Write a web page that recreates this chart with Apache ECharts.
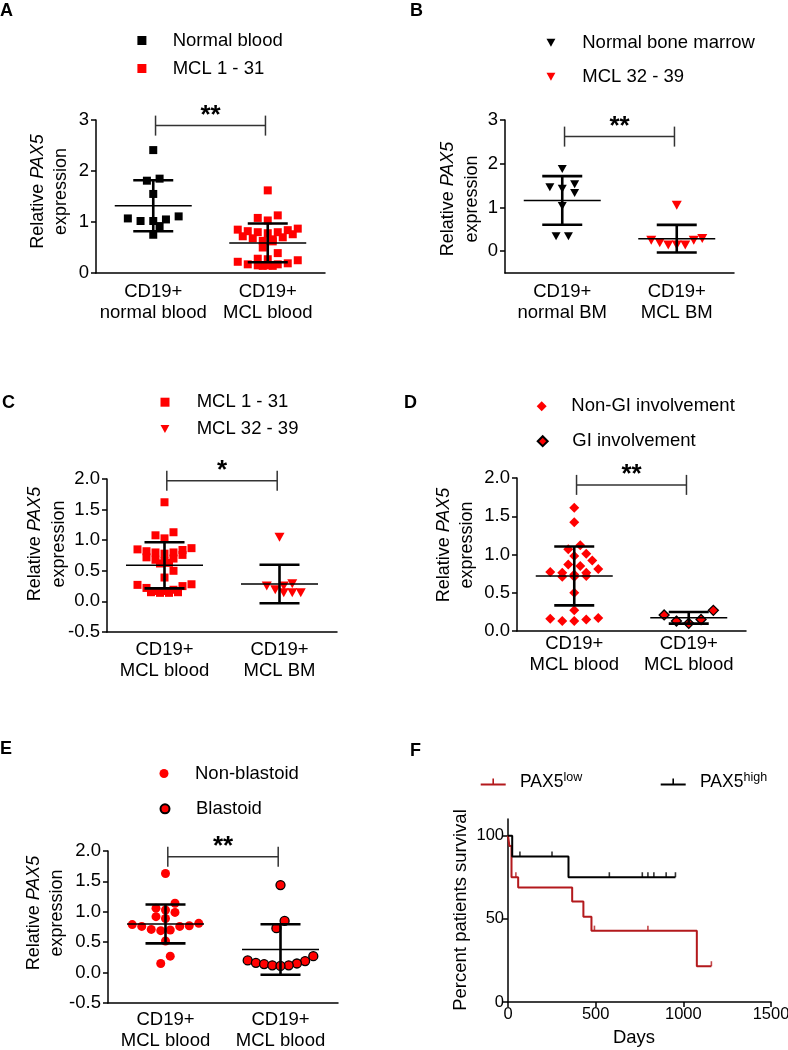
<!DOCTYPE html>
<html><head><meta charset="utf-8">
<script src="https://cdn.jsdelivr.net/npm/echarts@6/dist/echarts.min.js"></script>
<style>html,body{margin:0;padding:0;background:#fff}#c{width:788px;height:1050px}</style>
</head><body><div id="c"></div>
<script>
// ---------------- DATA ----------------
const catA = ['CD19+\nnormal blood', 'CD19+\nMCL blood'];
const catB = ['CD19+\nnormal BM', 'CD19+\nMCL BM'];
const catC = ['CD19+\nMCL blood', 'CD19+\nMCL BM'];
const catD = ['CD19+\nMCL blood', 'CD19+\nMCL blood'];
const catE = ['CD19+\nMCL blood', 'CD19+\nMCL blood'];

const ticksA = [0, 1, 2, 3];
const ticksB = [0, 1, 2, 3];
const ticksC = [-0.5, 0, 0.5, 1, 1.5, 2];
const ticksD = [0, 0.5, 1, 1.5, 2];
const ticksE = [-0.5, 0, 0.5, 1, 1.5, 2];
const ticksFy = [0, 50, 100];
const ticksFx = [0, 500, 1000, 1500];

const normalBlood = [2.41, 1.85, 1.81, 1.55, 1.11, 1.07, 1.05, 1.02, 1.02, 0.92, 0.75];
const mcl1to31 = [1.62, 1.13, 1.08, 1.03, 0.87, 0.85, 0.84, 0.82, 0.80, 0.80, 0.78, 0.76, 0.72, 0.70, 0.68, 0.66,
                  0.63, 0.62, 0.50, 0.39, 0.28, 0.27, 0.25, 0.22, 0.19, 0.17, 0.17, 0.15, 0.15, 0.14, 0.14];
const normalBM = [1.88, 1.53, 1.46, 1.43, 1.33, 1.03, 0.34, 0.34];
const mcl32to39 = [1.05, 0.29, 0.25, 0.25, 0.19, 0.14, 0.14, 0.14];
const nonGI = [1.61, 1.42, 1.12, 1.07, 1.01, 0.98, 0.92, 0.87, 0.85, 0.81, 0.77, 0.76, 0.76, 0.74, 0.72, 0.71,
               0.71, 0.50, 0.27, 0.17, 0.16, 0.15, 0.13, 0.13];
const giInv = [0.27, 0.21, 0.15, 0.13, 0.10];
const nonBlastoid = [1.63, 1.14, 1.06, 1.03, 0.99, 0.92, 0.89, 0.81, 0.79, 0.77, 0.76, 0.76, 0.71, 0.70, 0.69,
                     0.52, 0.27, 0.15];
const blastoid = [1.44, 0.85, 0.73, 0.27, 0.20, 0.19, 0.16, 0.15, 0.14, 0.12, 0.12, 0.11];

// mean and SD as drawn, per group
const meanA = [1.32, 0.59], sdA = [0.50, 0.38];
const meanB = [1.16, 0.285], sdB = [0.555, 0.315];
const meanC = [0.59, 0.285], sdC = [0.377, 0.315];
const meanD = [0.72, 0.172], sdD = [0.385, 0.076];
const meanE = [0.80, 0.38], sdE = [0.32, 0.415];

// significance
const starsA = '**', starsB = '**', starsC = '*', starsD = '**', starsE = '**';
const bracketA = 2.89, bracketB = 2.62, bracketC = 1.97, bracketD = 1.91, bracketE = 1.905;

// Kaplan-Meier (days, % survival)
const lowDays = [0, 8, 20, 58, 366, 430, 476, 1077, 1160];
const lowSurv = [100, 93.8, 75, 68.8, 60.4, 51.3, 42.9, 21.5, 21.5];
const highDays = [0, 24, 345, 955];
const highSurv = [100, 87.5, 75, 75];
const lowCensDays = [45, 493, 798, 1160];
const lowCensSurv = [75, 42.9, 42.9, 21.5];
const highCensDays = [68, 251, 578, 766, 798, 832, 902, 955];
const highCensSurv = [87.5, 87.5, 75, 75, 75, 75, 75, 75];

// ---------------- STYLE / LAYOUT ----------------
const FONT = '"Liberation Sans", Arial, Helvetica, sans-serif';
const NARROW = '"Liberation Sans Narrow", "Liberation Sans", Arial, sans-serif';
const RED = '#ff0000';
const KRED = '#b3191c';
const TRI = 'path://M0,0L10,0L5,9Z';
const centers = [0.5, 1.5];

const panels = [
  {key:'A', cats:catA, ticks:ticksA, dec:0, g:{left:96, top:120, width:229, height:153}, min:0, max:3, catMargin:8,
   mean:meanA, sd:sdA, stars:starsA, bracket:bracketA,
   groups:[{name:'Normal blood', vals:normalBlood, symbol:'rect', size:8, color:'#000', d:12.7, maxRow:7, tol:7, m:8},
           {name:'MCL 1 - 31', vals:mcl1to31, symbol:'rect', size:8, color:RED, d:10, maxRow:7, tol:7, m:8}]},
  {key:'B', cats:catB, ticks:ticksB, dec:0, g:{left:505, top:120, width:229, height:153}, min:-0.5, max:3, catMargin:8,
   mean:meanB, sd:sdB, stars:starsB, bracket:bracketB,
   groups:[{name:'Normal bone marrow', vals:normalBM, symbol:TRI, size:[9,8], color:'#000', d:12.4, maxRow:7, tol:7, m:8},
           {name:'MCL 32 - 39', vals:mcl32to39, symbol:TRI, size:[10,9], color:RED, d:8.5, maxRow:8, tol:8, m:6}]},
  {key:'C', cats:catC, ticks:ticksC, dec:1, g:{left:107, top:479, width:230, height:153}, min:-0.5, max:2, catMargin:7,
   mean:meanC, sd:sdC, stars:starsC, bracket:bracketC,
   groups:[{name:'MCL 1 - 31', vals:mcl1to31, symbol:'rect', size:8, color:RED, d:9, maxRow:7, tol:7, m:8},
           {name:'MCL 32 - 39', vals:mcl32to39, symbol:TRI, size:[10,9], color:RED, d:8.5, maxRow:8, tol:8, m:6}]},
  {key:'D', cats:catD, ticks:ticksD, dec:1, g:{left:517, top:478, width:229, height:153}, min:0, max:2, catMargin:2,
   mean:meanD, sd:sdD, stars:starsD, bracket:bracketD,
   groups:[{name:'Non-GI involvement', vals:nonGI, symbol:'diamond', size:10, color:RED, d:12, maxRow:6, tol:6, m:9},
           {name:'GI involvement', vals:giInv, symbol:'diamond', size:10, color:RED, border:'#000', d:12.3, maxRow:6, tol:14, m:9}]},
  {key:'E', cats:catE, ticks:ticksE, dec:1, g:{left:108, top:851, width:230, height:152}, min:-0.5, max:2, catMargin:6,
   mean:meanE, sd:sdE, stars:starsE, bracket:bracketE,
   groups:[{name:'Non-blastoid', vals:nonBlastoid, symbol:'circle', size:9, color:RED, d:9.5, maxRow:8, tol:8, m:8.5},
           {name:'Blastoid', vals:blastoid, symbol:'circle', size:9, color:RED, border:'#000', d:8.2, maxRow:9, tol:10.5, m:8}]}
];

// column-scatter layout (rows of near-equal values spread sideways)
function swarm(vals, ppuY, ppuX, o) {
  const idx = vals.map((v, i) => i).sort((a, b) => vals[b] - vals[a]);
  const rows = []; let cur = null;
  for (const i of idx) {
    if (cur && (vals[cur[0]] - vals[i]) * ppuY <= o.tol && cur.length < o.maxRow) cur.push(i);
    else { cur = [i]; rows.push(cur); }
  }
  const off = new Array(vals.length).fill(0);
  const placed = [];
  const shifts = [0, 0.5, -0.5, 1, -1, 1.5, -1.5, 2, -2];
  for (const row of rows) {
    const n = row.length;
    const slots = [];
    for (let k = 0; k < n; k++) slots.push(k - (n - 1) / 2);
    slots.sort((a, b) => Math.abs(a) - Math.abs(b) || a - b);
    const asc = [...row].sort((a, b) => vals[a] - vals[b]);
    let chosen = 0;
    for (const s of shifts) {
      let ok = true;
      for (let k = 0; k < n && ok; k++) {
        const x = (slots[k] + s) * o.d, y = vals[asc[k]] * ppuY;
        for (const p of placed) { if (Math.hypot(p[0] - x, p[1] - y) < o.m) { ok = false; break; } }
      }
      if (ok) { chosen = s; break; }
    }
    for (let k = 0; k < n; k++) {
      const x = (slots[k] + chosen) * o.d;
      off[asc[k]] = x / ppuX;
      placed.push([x, vals[asc[k]] * ppuY]);
    }
  }
  return off;
}

const axisLineStyle = {color: '#000', width: 1.5};
const grid = [], xAxis = [], yAxis = [], series = [];

panels.forEach((p, i) => {
  grid.push(Object.assign({outerBoundsMode: 'none', containLabel: false}, p.g));
  xAxis.push({gridIndex: i, type: 'category', data: p.cats, position: 'bottom',
    axisLine: {show: true, onZero: false, lineStyle: axisLineStyle}, axisTick: {show: false},
    axisLabel: {interval: 0, fontSize: 18.5, lineHeight: 21, margin: p.catMargin, color: '#000', fontFamily: FONT},
    splitLine: {show: false}});
  xAxis.push({gridIndex: i, type: 'value', min: 0, max: 2, show: false});
  yAxis.push({gridIndex: i, type: 'value', min: p.min, max: p.max,
    axisLine: {show: true, onZero: false, lineStyle: axisLineStyle},
    axisTick: {show: true, length: 5, lineStyle: axisLineStyle, customValues: p.ticks},
    axisLabel: {customValues: p.ticks, formatter: v => Number(v).toFixed(p.dec), fontSize: 18.5, margin: 7,
      color: '#000', fontFamily: FONT},
    splitLine: {show: false}});
  const ppuY = p.g.height / (p.max - p.min), ppuX = p.g.width / 2;
  p.groups.forEach((gr, gi) => {
    const off = swarm(gr.vals, ppuY, ppuX, gr);
    series.push({type: 'scatter', name: gr.name, xAxisIndex: 2 * i + 1, yAxisIndex: i,
      symbol: gr.symbol, symbolSize: gr.size, z: 2,
      itemStyle: {color: gr.color, borderColor: gr.border || gr.color, borderWidth: gr.border ? 1.3 : 0, opacity: 1},
      emphasis: {disabled: true},
      data: gr.vals.map((v, k) => [centers[gi] + off[k], v])});
  });
  // mean +/- SD
  series.push({type: 'custom', xAxisIndex: 2 * i + 1, yAxisIndex: i, z: 5, silent: true,
    data: centers.map((c, k) => [c, p.mean[k], p.sd[k]]),
    renderItem: (params, api) => {
      const c = api.value(0), m = api.value(1), s = api.value(2);
      const pm = api.coord([c, m]), pt = api.coord([c, m + s]), pb = api.coord([c, m - s]);
      const thin = {stroke: '#000', lineWidth: 1.5}, thick = {stroke: '#000', lineWidth: 2.6};
      return {type: 'group', children: [
        {type: 'line', shape: {x1: pm[0] - 38.5, y1: pm[1], x2: pm[0] + 38.5, y2: pm[1]}, style: thin},
        {type: 'line', shape: {x1: pt[0], y1: pt[1], x2: pb[0], y2: pb[1]}, style: thick},
        {type: 'line', shape: {x1: pt[0] - 20, y1: pt[1], x2: pt[0] + 20, y2: pt[1]}, style: thick},
        {type: 'line', shape: {x1: pb[0] - 20, y1: pb[1], x2: pb[0] + 20, y2: pb[1]}, style: thick}
      ]};
    }});
  // significance bracket
  series.push({type: 'custom', xAxisIndex: 2 * i + 1, yAxisIndex: i, z: 5, silent: true,
    data: [[0.52, 1.48, p.bracket]],
    renderItem: (params, api) => {
      const a = api.coord([api.value(0), api.value(2)]), b = api.coord([api.value(1), api.value(2)]);
      const ls = {stroke: '#333', lineWidth: 1.5};
      return {type: 'group', children: [
        {type: 'line', shape: {x1: a[0], y1: a[1], x2: b[0], y2: b[1]}, style: ls},
        {type: 'line', shape: {x1: a[0], y1: a[1] - 10, x2: a[0], y2: a[1] + 10}, style: ls},
        {type: 'line', shape: {x1: b[0], y1: b[1] - 10, x2: b[0], y2: b[1] + 10}, style: ls},
        {type: 'text', x: (a[0] + b[0]) / 2, y: a[1] - 10,
         style: {text: p.stars, fill: '#000', font: 'bold 26px ' + FONT, align: 'center', verticalAlign: 'middle',
                 textAlign: 'center', textVerticalAlign: 'middle'}}
      ]};
    }});
});

// Panel F
const fi = panels.length;
grid.push({left: 508, top: 819, width: 263, height: 183, outerBoundsMode: 'none', containLabel: false});
xAxis.push({gridIndex: fi, type: 'value', min: 0, max: 1500, interval: 500,
  axisLine: {show: true, onZero: false, lineStyle: axisLineStyle},
  axisTick: {show: true, length: 5, lineStyle: axisLineStyle},
  axisLabel: {fontSize: 16.5, margin: 4, color: '#000', fontFamily: NARROW, customValues: ticksFx,
    formatter: v => String(v)},
  splitLine: {show: false}});
yAxis.push({gridIndex: fi, type: 'value', min: 0, max: 110,
  axisLine: {show: true, onZero: false, lineStyle: axisLineStyle},
  axisTick: {show: true, length: 5, lineStyle: axisLineStyle, customValues: ticksFy},
  axisLabel: {customValues: ticksFy, fontSize: 16.5, margin: 4, color: '#000', fontFamily: NARROW,
    formatter: v => String(v)},
  splitLine: {show: false}});
series.push({type: 'line', name: 'PAX5low', xAxisIndex: 2 * fi, yAxisIndex: fi, step: 'end', symbol: 'none',
  color: KRED, lineStyle: {color: KRED, width: 2}, itemStyle: {color: KRED}, z: 3,
  data: lowDays.map((d, k) => [d, lowSurv[k]])});
series.push({type: 'line', name: 'PAX5high', xAxisIndex: 2 * fi, yAxisIndex: fi, step: 'end', symbol: 'none',
  color: '#000', lineStyle: {color: '#000', width: 2}, itemStyle: {color: '#000'}, z: 4,
  data: highDays.map((d, k) => [d, highSurv[k]])});
series.push({type: 'scatter', name: 'lowCensored', xAxisIndex: 2 * fi, yAxisIndex: fi, symbol: 'rect',
  symbolSize: [1.6, 5], symbolOffset: [0, -2.5], itemStyle: {color: KRED}, z: 3,
  data: lowCensDays.map((d, k) => [d, lowCensSurv[k]])});
series.push({type: 'scatter', name: 'highCensored', xAxisIndex: 2 * fi, yAxisIndex: fi, symbol: 'rect',
  symbolSize: [1.6, 5], symbolOffset: [0, -2.5], itemStyle: {color: '#000'}, z: 4,
  data: highCensDays.map((d, k) => [d, highCensSurv[k]])});

// legends (one component per entry for exact placement)
const legendItems = [
  {name: 'Normal blood', left: 137.4, cy: 41, w: 9, h: 9, pad: 21.3},
  {name: 'MCL 1 - 31', left: 137.4, cy: 69, w: 9, h: 9, pad: 21.3},
  {name: 'Normal bone marrow', left: 546.5, cy: 43.3, w: 9, h: 8, pad: 21.8},
  {name: 'MCL 32 - 39', left: 546.5, cy: 77.3, w: 9, h: 8, pad: 21.8},
  {name: 'MCL 1 - 31', left: 160.5, cy: 402.7, w: 9, h: 9, pad: 22.2},
  {name: 'MCL 32 - 39', left: 160.5, cy: 429.5, w: 9, h: 8, pad: 22.2},
  {name: 'Non-GI involvement', left: 536.7, cy: 406.7, w: 10, h: 10, pad: 19.6},
  {name: 'GI involvement', left: 536.7, cy: 441.7, w: 10, h: 10, pad: 19.6},
  {name: 'Non-blastoid', left: 159.5, cy: 774, w: 9, h: 9, pad: 21.5},
  {name: 'Blastoid', left: 159.5, cy: 809.3, w: 9, h: 9, pad: 21.5}
];
const legend = legendItems.map(it => ({
  left: it.left, top: it.cy - 10, padding: 0, selectedMode: false, itemWidth: it.w, itemHeight: it.h,
  data: [it.name],
  formatter: n => '{t|' + n + '}',
  textStyle: {rich: {t: {fontSize: 18.5, lineHeight: 20, color: '#000', fontFamily: FONT, padding: [0, 0, 0, it.pad]}}}
}));
const kmIcon = 'path://M0,5h25v2h-25z M11.7,0h1.6v5h-1.6z';
[{name: 'PAX5low', left: 480.7, sup: 'low'}, {name: 'PAX5high', left: 660.7, sup: 'high'}].forEach(it => {
  legend.push({left: it.left, top: 771, padding: 0, selectedMode: false, itemWidth: 25, itemHeight: 8,
    data: [{name: it.name, icon: kmIcon}],
    formatter: () => '{t|PAX5}{s|' + it.sup + '}',
    textStyle: {rich: {
      t: {fontSize: 17.5, lineHeight: 22, color: '#000', fontFamily: NARROW, padding: [0, 0, 0, 9.3]},
      s: {fontSize: 12.5, lineHeight: 14, color: '#000', fontFamily: NARROW, verticalAlign: 'top'}}}});
});

// texts: panel letters & axis titles
const letterPos = [['A', 0, 2], ['B', 410, 2], ['C', 2, 394], ['D', 404, 394], ['E', 0, 740], ['F', 410, 742]];
const yTitlePos = [[49.3, 191.5], [459.8, 199], [47, 544], [455.4, 545], [45.5, 913]];
const graphic = [];
letterPos.forEach(([t, x, y]) => graphic.push({type: 'text', x: x, y: y,
  style: {text: t, font: 'bold 18px ' + FONT, fill: '#000', align: 'left', verticalAlign: 'top', textAlign: 'left', textVerticalAlign: 'top'}}));
yTitlePos.forEach(([x, y]) => graphic.push({type: 'text', x: x, y: y, rotation: Math.PI / 2,
  style: {text: '{n|Relative }{i|PAX5}\n{n|expression}', align: 'center', verticalAlign: 'middle',
    textAlign: 'center', textVerticalAlign: 'middle', fill: '#000',
    rich: {n: {fontSize: 18, lineHeight: 23.5, fontFamily: FONT, fill: '#000', color: '#000'},
           i: {fontSize: 18, lineHeight: 23.5, fontFamily: FONT, fontStyle: 'italic', fill: '#000', color: '#000'}}}}));
graphic.push({type: 'text', x: 460.7, y: 910, rotation: Math.PI / 2,
  style: {text: 'Percent patients survival', font: '18.5px ' + FONT, fill: '#000', align: 'center', verticalAlign: 'middle',
    textAlign: 'center', textVerticalAlign: 'middle'}});
graphic.push({type: 'text', x: 634, y: 1038,
  style: {text: 'Days', font: '18.5px ' + FONT, fill: '#000', align: 'center', verticalAlign: 'middle',
    textAlign: 'center', textVerticalAlign: 'middle'}});

const chart = echarts.init(document.getElementById('c'), null, {renderer: 'canvas', width: 788, height: 1050});
chart.setOption({animation: false, backgroundColor: '#fff', grid, xAxis, yAxis, series, legend, graphic,
  textStyle: {fontFamily: FONT}});
</script></body></html>
